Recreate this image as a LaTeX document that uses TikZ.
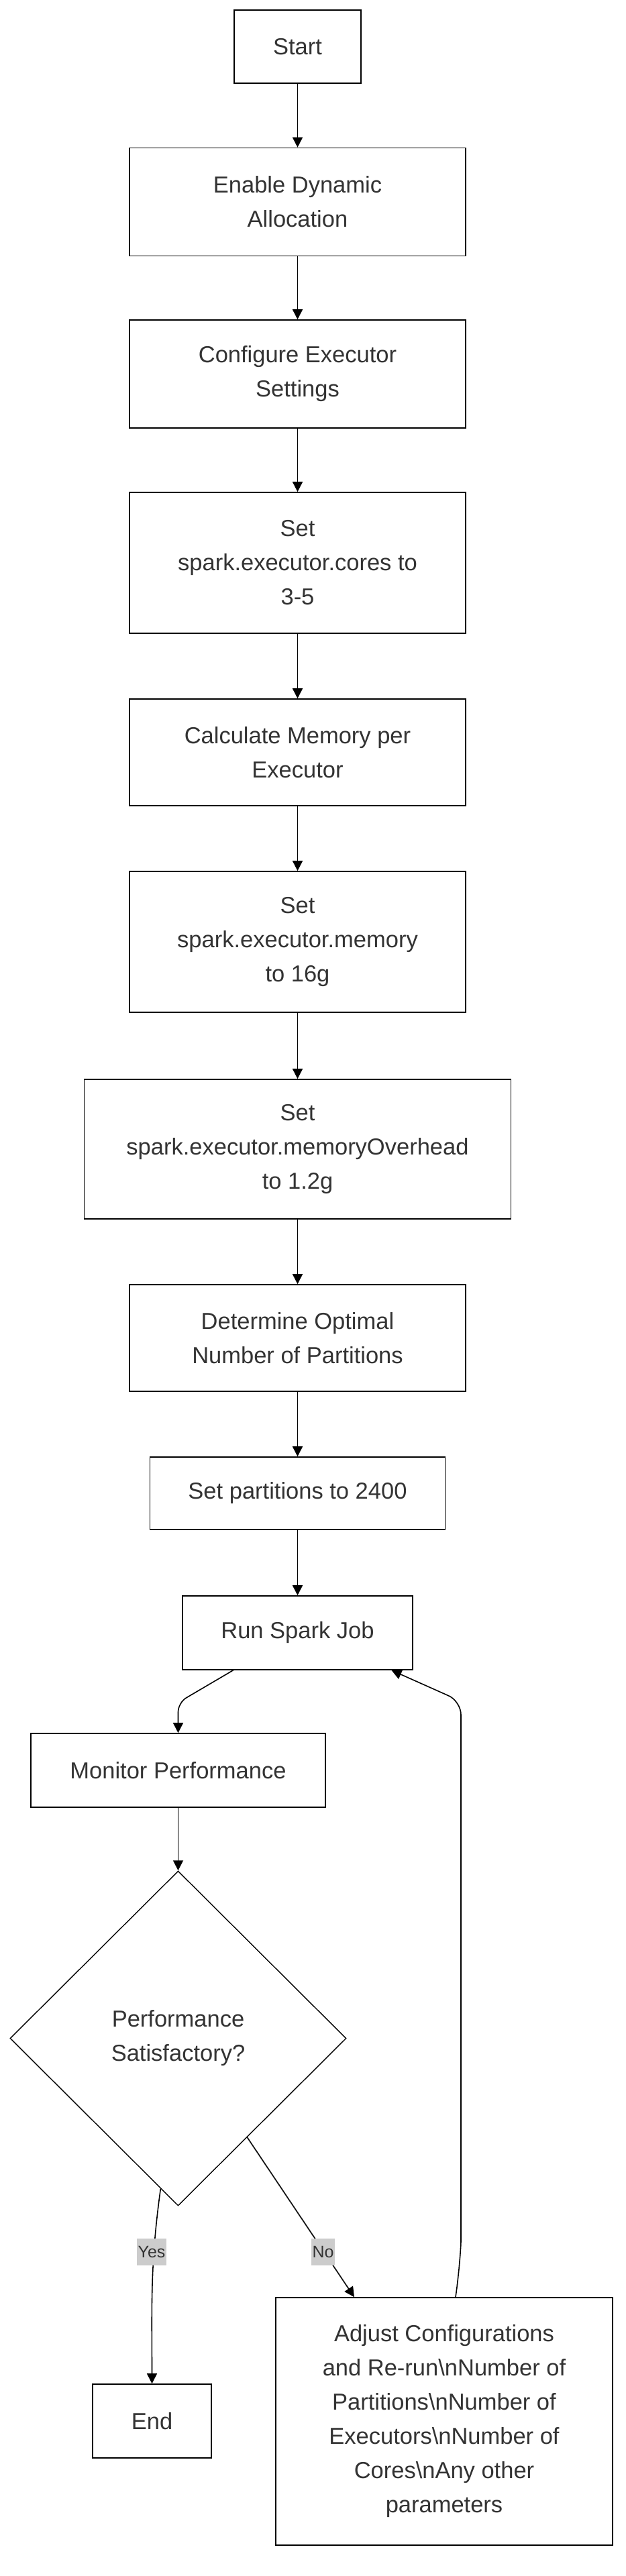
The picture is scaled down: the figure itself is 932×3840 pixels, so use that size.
\documentclass[tikz,border=0pt]{standalone}
\usepackage{fontspec}
\setmainfont{Liberation Sans}
\usetikzlibrary{arrows.meta,shapes.geometric,calc}
\definecolor{txt}{HTML}{333333}
\definecolor{lblbg}{HTML}{CCCCCC}
\begin{document}
\begin{tikzpicture}[x=1pt,y=-1pt,
  box/.style={draw=black, line width=1.6pt, fill=white, text=txt, align=center, inner sep=0pt, font=\fontsize{34.5}{51}\selectfont},
  dbox/.style={box, diamond, line width=1.4pt},
  arr/.style={draw=black, line width=1.6pt, -{Triangle[length=15pt,width=15pt]}},
  lbl/.style={fill=lblbg, text=txt, inner xsep=1.5pt, inner ysep=0pt, minimum height=40pt, font=\fontsize{25}{30}\selectfont},
]
\useasboundingbox (0,0) rectangle (932,3840);
\fill[white] (0,0) rectangle (932,3840);

\node[box, minimum width=189pt, minimum height=109pt] (start) at (443.5,69.5) {Start};
\node[box, minimum width=501pt, minimum height=161pt] (enable) at (443.5,301) {Enable Dynamic\\Allocation};
\node[box, minimum width=501pt, minimum height=161pt] (conf) at (443.5,557.5) {Configure Executor\\Settings};
\node[box, minimum width=501pt, minimum height=210pt] (cores) at (443.5,839) {Set\\spark.executor.cores to\\3-5};
\node[box, minimum width=501pt, minimum height=159pt] (calc) at (443.5,1121.5) {Calculate Memory per\\Executor};
\node[box, minimum width=501pt, minimum height=210pt] (mem) at (443.5,1404) {Set\\spark.executor.memory\\to 16g};
\node[box, minimum width=636pt, minimum height=208pt] (over) at (443.5,1713) {Set\\spark.executor.memoryOverhead\\to 1.2g};
\node[box, minimum width=501pt, minimum height=159pt] (det) at (443.5,1994.5) {Determine Optimal\\Number of Partitions};
\node[box, minimum width=440pt, minimum height=108pt] (part) at (443.5,2226) {Set partitions to 2400};
\node[box, minimum width=343pt, minimum height=110pt] (run) at (443.5,2434) {Run Spark Job};
\node[box, minimum width=439pt, minimum height=110pt] (mon) at (265.5,2639) {Monitor Performance};
\node[dbox, minimum width=501pt, minimum height=499pt] (dia) at (265.5,3038.5) {Performance\\Satisfactory?};
\node[box, minimum width=177pt, minimum height=110pt] (end) at (226.5,3609) {End};
\node[box, minimum width=502pt, minimum height=369pt] (adj) at (662,3609.5) {Adjust Configurations\\and Re-run\textbackslash nNumber of\\Partitions\textbackslash nNumber of\\Executors\textbackslash nNumber of\\Cores\textbackslash nAny other\\parameters};

\draw[arr] (start.south) -- (enable.north);
\draw[arr] (enable.south) -- (conf.north);
\draw[arr] (conf.south) -- (cores.north);
\draw[arr] (cores.south) -- (calc.north);
\draw[arr] (calc.south) -- (mem.north);
\draw[arr] (mem.south) -- (over.north);
\draw[arr] (over.south) -- (det.north);
\draw[arr] (det.south) -- (part.north);
\draw[arr] (part.south) -- (run.north);

\coordinate (c1) at (265.5,2538);
\draw[arr, rounded corners=14pt] ([xshift=-96pt]run.south) -- (c1) -- (mon.north);
\draw[arr] (mon.south) -- (dia.north);

\coordinate (p1) at ($(dia.south)!0.104!(dia.west)$);
\coordinate (p2) at ($(dia.east)!0.59!(dia.south)$);
\draw[arr] (p1) to[out=-98,in=90] (end.north);
\draw[arr] (p2) -- ([xshift=-134pt]adj.north);

\coordinate (c2) at (687,2536);
\coordinate (c3) at (687,3320);
\draw[arr, rounded corners=20pt] ([xshift=17pt]adj.north) .. controls (684,3390) and (687,3350) .. (c3) -- (c2) -- ([xshift=140pt]run.south);

\node[lbl] (ylab) at (226,3357) {Yes};
\node[lbl] (nlab) at (481.5,3357) {No};
\end{tikzpicture}
\end{document}
